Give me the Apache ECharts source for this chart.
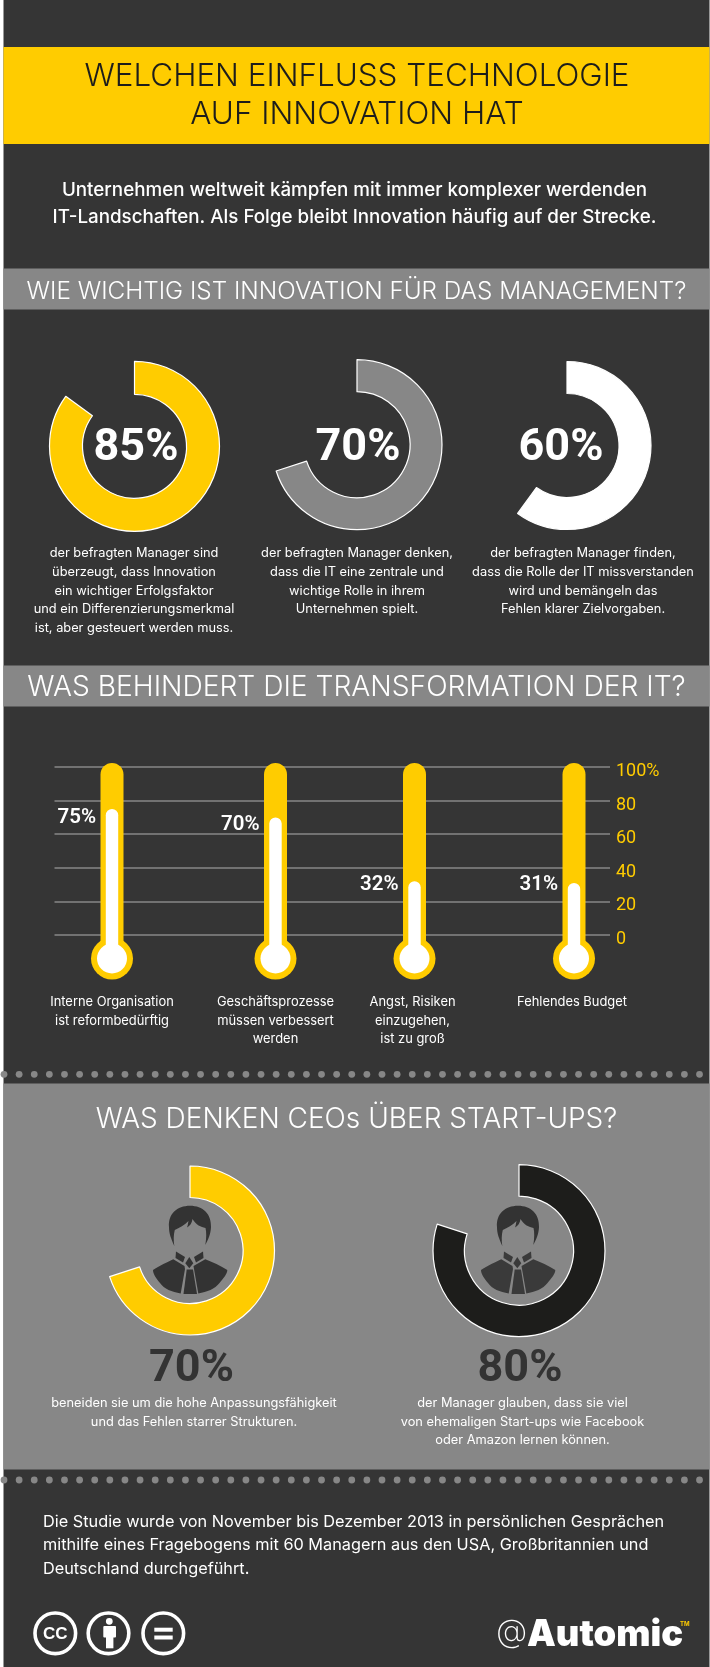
<!DOCTYPE html>
<html>
<head>
<meta charset="utf-8">
<title>Welchen Einfluss Technologie auf Innovation hat</title>
<script src="https://cdn.jsdelivr.net/npm/echarts@6/dist/echarts.min.js"></script>
<style>
  html, body { margin: 0; padding: 0; background: #fff; }
  #chart-container { width: 710px; height: 1667px; }
</style>
</head>
<body>
<div id="chart-container"></div>
<script>
// data
var titleLines = ["WELCHEN EINFLUSS TECHNOLOGIE", "AUF INNOVATION HAT"];
var introLines = [
  "Unternehmen weltweit kämpfen mit immer komplexer werdenden",
  "IT-Landschaften. Als Folge bleibt Innovation häufig auf der Strecke.",
];
var sectionTitles = [
  "WIE WICHTIG IST INNOVATION FÜR DAS MANAGEMENT?",
  "WAS BEHINDERT DIE TRANSFORMATION DER IT?",
  "WAS DENKEN CEOs ÜBER START-UPS?",
];
var managerValues = [85, 70, 60];
var managerTexts = [
  ["der befragten Manager sind", "überzeugt, dass Innovation", "ein wichtiger Erfolgsfaktor", "und ein Differenzierungsmerkmal", "ist, aber gesteuert werden muss."],
  ["der befragten Manager denken,", "dass die IT eine zentrale und", "wichtige Rolle in ihrem", "Unternehmen spielt."],
  ["der befragten Manager finden,", "dass die Rolle der IT missverstanden", "wird und bemängeln das", "Fehlen klarer Zielvorgaben."],
];
var barrierValues = [75, 70, 32, 31];
var barrierNames = [
  "Interne Organisation\nist reformbedürftig",
  "Geschäftsprozesse\nmüssen verbessert\nwerden",
  "Angst, Risiken\neinzugehen,\nist zu groß",
  "Fehlendes Budget",
];
var ceoValues = [70, 80];
var ceoTexts = [
  ["beneiden sie um die hohe Anpassungsfähigkeit", "und das Fehlen starrer Strukturen."],
  ["der Manager glauben, dass sie viel", "von ehemaligen Start-ups wie Facebook", "oder Amazon lernen können."],
];
var footerLines = [
  "Die Studie wurde von November bis Dezember 2013 in persönlichen Gesprächen",
  "mithilfe eines Fragebogens mit 60 Managern aus den USA, Großbritannien und",
  "Deutschland durchgeführt.",
];

// layout
var DARK = "#353535", YELLOW = "#ffcc00", GREY = "#878787", BLACK = "#1d1d1b";
var FONT = "Inter, sans-serif";
var NUM_FONT = "Roboto, sans-serif";
var managerPies = [
  { x: 134.5, y: 446.3, r0: 52, r1: 85, color: YELLOW, labelX: 136, textX: 134 },
  { x: 357, y: 444.7, r0: 53, r1: 85, color: GREY, labelX: 358, textX: 357 },
  { x: 567, y: 445.5, r0: 52, r1: 84, color: "#ffffff", labelX: 561, textX: 583 },
];
var ceoPies = [
  { x: 190, y: 1250.5, r0: 53, r1: 84.5, color: YELLOW, labelX: 191.5, textX: 194, iconX: 190 },
  { x: 519, y: 1250.7, r0: 54.5, r1: 86, color: BLACK, labelX: 520, textX: 522.5, iconX: 518 },
];
var tubeX = [112, 275.5, 414.5, 574];
var tubeLabelDy = [9, 7, 4, 2];
var tubeNameShift = [0, 0, 4, 4];
var GRID_TOP = 767, GRID_H = 168;

// person icon, coordinates relative to the top of the head
var hairPath = "M-15.7 46C-19 38 -21 34 -21 27C-22 14 -13 5.7 0 5.7C13 5.7 21.5 14 21 27C20.8 34 18 40 15.3 45C16.5 38 16.5 32 15.5 28C11 27 6 25 2.5 19C2 23 0 26 -3 27.5C-2 25 -2 23 -1.5 21C-5 25 -11 28 -15.2 30C-16.5 35 -16.5 40 -15.7 46Z";
var bodyPaths = [
  "M-5 69L-9.3 93.5C-18 92 -26 89 -30 83C-34 78 -37 74 -37 70C-31 66 -22 62 -16.7 59.3L-5.5 66Z",
  "M4 69L8.3 93.5C17 92 25 89 29.5 83C33.5 78 37.3 74 37.3 70C31 66 22 62 15.3 59.3L3.5 66Z",
  "M-3.3 69.5L3 69.5L7 94L-6.5 94Z",
  "M-14 51.5L-5 57L-7 62.5L-14.5 58Z",
  "M13 51.5L4 57L6 62.5L13.5 58Z",
  "M-0.7 57L3.3 63.3L-0.7 68.3L-4.7 63.3Z",
];

function text(str, x, y, font, fill, align) {
  return {
    type: "text",
    x: x,
    y: y,
    z: 10,
    silent: true,
    style: { text: str, font: font, fill: fill, align: align || "center", verticalAlign: "middle", textAlign: align || "center", textVerticalAlign: "middle" },
  };
}
function rect(x, y, w, h, fill) {
  return { type: "rect", z: -10, silent: true, shape: { x: x, y: y, width: w, height: h }, style: { fill: fill } };
}
function lineBlock(lines, x, firstY, step, font, fill, align) {
  return lines.map(function (l, i) {
    return text(l, x, firstY + i * step, font, fill, align);
  });
}

var elements = [
  rect(3.5, 0, 706, 1667, DARK),
  rect(3.5, 47, 706, 97, YELLOW),
  rect(3.5, 268.5, 706, 41, GREY),
  rect(3.5, 665.5, 706, 41, GREY),
  rect(3.5, 1083.5, 706, 386, GREY),
];

// dotted rules
[1074.3, 1480].forEach(function (y) {
  for (var x = 4; x < 710; x += 15.12) {
    elements.push({ type: "circle", z: -5, silent: true, shape: { cx: x, cy: y, r: 3.4 }, style: { fill: GREY } });
  }
});

elements = elements.concat(
  lineBlock(titleLines, 357, 77, 37.5, "300 31.4px " + FONT, BLACK),
  lineBlock(introLines, 354.5, 190, 27.5, "500 18.8px " + FONT, "#fff"),
  [
    text(sectionTitles[0], 356.5, 291.5, "300 24.3px " + FONT, "#fff"),
    text(sectionTitles[1], 356.5, 688, "300 28.2px " + FONT, "#fff"),
    text(sectionTitles[2], 356.5, 1120, "300 28px " + FONT, "#fff"),
  ]
);
managerPies.forEach(function (p, i) {
  elements.push(text(managerValues[i] + "%", p.labelX, 449, "700 45px " + NUM_FONT, "#fff"));
  elements = elements.concat(lineBlock(managerTexts[i], p.textX, 553.5, 18.6, "400 12.8px " + FONT, "#fff"));
});
ceoPies.forEach(function (p, i) {
  elements.push(text(ceoValues[i] + "%", p.labelX, 1370, "700 45px " + NUM_FONT, "#333"));
  elements = elements.concat(lineBlock(ceoTexts[i], p.textX, 1403.3, 18.6, "400 12.8px " + FONT, "#fff"));
});
elements = elements.concat(lineBlock(footerLines, 43, 1521.7, 23.7, "400 16.3px " + FONT, "#fff", "left"));

// licence badges
[55.3, 108.5, 163.3].forEach(function (cx) {
  elements.push({ type: "circle", z: 5, silent: true, shape: { cx: cx, cy: 1633.3, r: 20.3 }, style: { fill: "none", stroke: "#fff", lineWidth: 3.6 } });
});
elements.push(text("CC", 55.3, 1634, "700 17px 'Liberation Sans', sans-serif", "#fff"));
elements.push({ type: "circle", z: 5, silent: true, shape: { cx: 109.3, cy: 1621.3, r: 3.4 }, style: { fill: "#fff" } });
elements.push({ type: "rect", z: 5, silent: true, shape: { x: 103.3, y: 1626, width: 12.7, height: 11.5, r: 1 }, style: { fill: "#fff" } });
elements.push({ type: "rect", z: 5, silent: true, shape: { x: 106, y: 1630, width: 7.4, height: 18.3 }, style: { fill: "#fff" } });
elements.push({ type: "rect", z: 5, silent: true, shape: { x: 154.3, y: 1627.7, width: 18.4, height: 4 }, style: { fill: "#fff" } });
elements.push({ type: "rect", z: 5, silent: true, shape: { x: 154.3, y: 1635.5, width: 18.4, height: 4 }, style: { fill: "#fff" } });

// logo
elements.push(text("@", 496, 1632, "200 32px " + FONT, "#fff", "left"));
elements.push(text("Automic", 527, 1635, "900 36.3px " + FONT, "#fff", "left"));
elements.push(text("TM", 680, 1624, "700 6px " + FONT, YELLOW, "left"));

function donut(p, value) {
  return {
    type: "pie",
    silent: true,
    animation: false,
    center: [p.x, p.y],
    radius: [p.r0, p.r1],
    startAngle: 90,
    label: { show: false },
    labelLine: { show: false },
    data: [
      { value: value, itemStyle: { color: p.color, borderColor: "#fff", borderWidth: 1.2 } },
      { value: 100 - value, itemStyle: { color: "transparent", borderWidth: 0 } },
    ],
  };
}

function renderTube(params, api) {
  var x = api.coord([0, 0])[0];
  var y0 = api.coord([0, 0])[1];
  var yTop = api.coord([0, 100])[1] - 4;
  var yVal = api.coord([0, api.value(1)])[1];
  var bulbY = y0 + 23.5;
  return {
    type: "group",
    children: [
      { type: "rect", shape: { x: x - 11.5, y: yTop, width: 23, height: bulbY - yTop, r: [11.5, 11.5, 0, 0] }, style: { fill: YELLOW } },
      { type: "circle", shape: { cx: x, cy: bulbY, r: 21 }, style: { fill: YELLOW } },
      { type: "rect", shape: { x: x - 6.2, y: yVal, width: 12.4, height: bulbY - yVal, r: [6.2, 6.2, 0, 0] }, style: { fill: "#fff" } },
      { type: "circle", shape: { cx: x, cy: bulbY, r: 15 }, style: { fill: "#fff" } },
      {
        type: "text",
        x: x - 16,
        y: yVal + tubeLabelDy[params.seriesIndex - 5],
        style: { text: api.value(1) + "%", font: "600 20.5px " + NUM_FONT, fill: "#fff", align: "right", verticalAlign: "middle", textAlign: "right", textVerticalAlign: "middle" },
      },
    ],
  };
}

function renderIcon(params, api) {
  var p = ceoPies[params.dataIndex];
  var fill = params.dataIndex === 0 ? "#333333" : "#3a3a3a";
  var kids = [{ type: "path", shape: { pathData: hairPath }, style: { fill: "#333333" } }];
  bodyPaths.forEach(function (d) {
    kids.push({ type: "path", shape: { pathData: d }, style: { fill: fill } });
  });
  return { type: "group", x: p.iconX, y: 1200, children: kids };
}

var grids = [{ left: 54.5, width: 555.5, top: GRID_TOP, height: GRID_H }];
var xAxes = [{ type: "category", gridIndex: 0, show: false, data: [""] }];
var yAxes = [
  {
    type: "value",
    gridIndex: 0,
    position: "right",
    min: 0,
    max: 100,
    interval: 20,
    axisLine: { show: false },
    axisTick: { show: false },
    splitLine: { lineStyle: { color: "#727272", width: 2 } },
    axisLabel: {
      color: YELLOW,
      margin: 6,
      verticalAlign: "top",
      lineHeight: 9,
      fontFamily: NUM_FONT,
      fontSize: 18,
      formatter: function (v) {
        return v === 100 ? "100%" : String(v);
      },
    },
  },
];
var series = managerPies
  .map(function (p, i) {
    return donut(p, managerValues[i]);
  })
  .concat(
    ceoPies.map(function (p, i) {
      return donut(p, ceoValues[i]);
    })
  );

barrierValues.forEach(function (v, i) {
  var g = i + 1;
  grids.push({ left: tubeX[i] - 40, width: 80, top: GRID_TOP, height: GRID_H });
  xAxes.push({
    type: "category",
    gridIndex: g,
    data: [barrierNames[i]],
    axisLine: { show: false },
    axisTick: { show: false },
    axisLabel: {
      interval: 0,
      color: "#fff",
      margin: 58,
      fontFamily: "Inter, sans-serif",
      fontSize: 12.9,
      lineHeight: 18.6,
      padding: [0, tubeNameShift[i], 0, 0],
    },
  });
  yAxes.push({ type: "value", gridIndex: g, show: false, min: 0, max: 100, interval: 20, splitLine: { show: false } });
  series.push({
    type: "custom",
    silent: true,
    animation: false,
    xAxisIndex: g,
    yAxisIndex: g,
    z: 4,
    renderItem: renderTube,
    data: [[0, v]],
  });
});

series.push({
  type: "custom",
  coordinateSystem: "none",
  silent: true,
  animation: false,
  z: 6,
  renderItem: renderIcon,
  data: ceoPies.map(function (p, i) {
    return [i];
  }),
});

var dom = document.getElementById("chart-container");
var myChart = echarts.init(dom, null, { renderer: "canvas" });
myChart.setOption({
  animation: false,
  backgroundColor: "#ffffff",
  graphic: { elements: elements },
  grid: grids,
  xAxis: xAxes,
  yAxis: yAxes,
  series: series,
});
</script>
</body>
</html>
